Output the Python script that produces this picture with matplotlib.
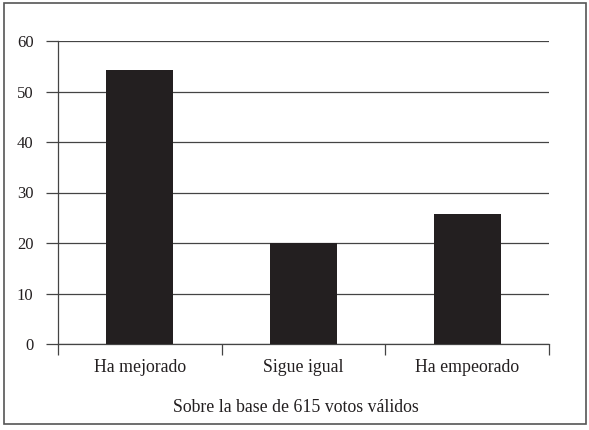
import matplotlib
matplotlib.use("Agg")
import matplotlib.pyplot as plt
from matplotlib.patches import Rectangle

categories = ["Ha mejorado", "Sigue igual", "Ha empeorado"]
values = [54.3, 20.0, 25.7]
yticks = [0, 10, 20, 30, 40, 50, 60]
caption = "Sobre la base de 615 votos válidos"

plt.rcParams["font.family"] = ["Liberation Serif", "DejaVu Serif"]

fig = plt.figure(figsize=(5.89, 4.30), dpi=100)
ax = fig.add_axes([58 / 589, 1 - 344 / 430, (549 - 58) / 589, (344 - 41) / 430])

x = range(len(categories))
ax.bar(x, values, width=0.41, color="#231f20", zorder=3)

ax.set_xlim(-0.5, len(categories) - 0.5)
ax.set_ylim(0, 60)
ax.set_yticks(yticks)
ax.yaxis.grid(True, color="#444444", lw=0.9, zorder=0)
ax.tick_params(axis="y", length=8.6, width=0.9, color="#444444", pad=9,
               labelsize=12, labelcolor="#231f20")

# category labels on minor ticks, boundary marks on major ticks
ax.set_xticks([i - 0.5 for i in range(len(categories) + 1)])
ax.set_xticklabels([])
ax.set_xticks(list(x), minor=True)
ax.set_xticklabels(categories, minor=True)
ax.tick_params(axis="x", which="major", length=8, width=0.9, color="#444444",
               direction="out")
ax.tick_params(axis="x", which="minor", length=0, pad=11, labelsize=12.8,
               labelcolor="#231f20")

for s in ["top", "right"]:
    ax.spines[s].set_visible(False)
for s in ["left", "bottom"]:
    ax.spines[s].set_color("#444444")
    ax.spines[s].set_linewidth(0.9)

fig.text(296 / 589, 1 - 408 / 430, caption, ha="center", va="center",
         fontsize=12.8, color="#231f20")

# frame around the whole figure
fig.patches.append(Rectangle((4 / 589, 6 / 430), 582 / 589, 421 / 430,
                             transform=fig.transFigure, fill=False,
                             edgecolor="#555555", lw=1.2))

fig.savefig("out.png", dpi=100)
